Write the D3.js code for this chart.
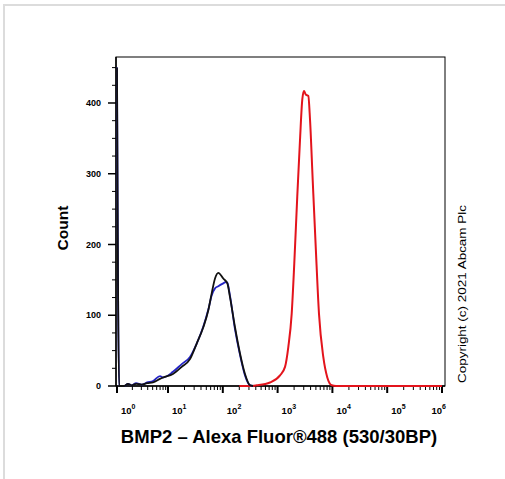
<!DOCTYPE html>
<html lang="en-US">
<head>
<meta charset="UTF-8" />
<title>BMP2 histogram</title>
<style>
    body { margin: 0; background: #fff; }
    text { font-family: "Liberation Sans", Arial, sans-serif; fill: #000; }
</style>
<script src="https://d3js.org/d3.v7.min.js"></script>
</head>
<body>
<div id="container"></div>
<script>
// fluorescence intensity (channel value) and event count
const blackX = [1, 1.1, 1.37, 1.64, 1.94, 2.36, 3.05, 3.88, 5.08, 6.97, 7.98, 12.3, 17.8, 25.2, 33.4, 44.1, 54.4, 62.7, 72.1, 82.8, 102, 121, 135, 167, 206, 254, 314, 356];
const blackY = [450, 0, 0, 3, 1, 3, 2, 4, 5, 10, 12, 17, 27, 38, 60, 83, 107, 131, 152, 160, 152, 145, 126, 83, 46, 17, 1, 0];

const blueX = [1, 1.1, 1.37, 1.64, 1.94, 2.36, 3.05, 3.88, 5.08, 6.97, 7.98, 12.3, 17.8, 25.2, 33.4, 44.1, 54.4, 62.7, 72.1, 82.8, 102, 114, 121, 135, 167, 206, 254, 314, 356];
const blueY = [450, 0, 0, 3, 1, 4, 2, 5, 7, 14, 12, 20, 31, 41, 60, 84, 108, 128, 138, 141, 145, 147, 146, 128, 80, 44, 15, 1, 0];

const redX = [200, 314, 416, 726, 1107, 1366, 1568, 1807, 2015, 2285, 2564, 2823, 3033, 3258, 3634, 3902, 4371, 4960, 5693, 6820, 8070, 9710, 11640, 1000000];
const redY = [0, 0, 1, 5, 15, 27, 55, 102, 173, 268, 348, 405, 417, 412, 410, 377, 291, 197, 102, 41, 12, 1, 0, 0];

const xDecades = [0, 1, 2, 3, 4, 5, 6];
const yMajor = [0, 100, 200, 300, 400];
const yMinor = [25, 50, 75, 125, 150, 175, 225, 250, 275, 325, 350, 375, 425, 450];

const W = 505, H = 479;
const plotL = 116, plotR = 445, plotT = 57, plotB = 386;

const svg = d3.select("#container").append("svg")
    .attr("width", W).attr("height", H);

// light border on top and left edges
svg.append("line").attr("x1", 4).attr("x2", W).attr("y1", 5).attr("y2", 5)
    .attr("stroke", "#dcdcdc").attr("stroke-width", 2);
svg.append("line").attr("x1", 4).attr("x2", 4).attr("y1", 4).attr("y2", H)
    .attr("stroke", "#dcdcdc").attr("stroke-width", 2);

// first decade is squeezed a little, like a logicle display
const x = d3.scaleLog().domain([1, 10, 1e6]).range([117, 168, 442]).clamp(true);
const y = d3.scaleLinear().domain([0, 465]).range([plotB, plotT]);

svg.append("rect")
    .attr("x", plotL).attr("y", plotT)
    .attr("width", plotR - plotL).attr("height", plotB - plotT)
    .attr("fill", "none").attr("stroke", "#000").attr("stroke-width", 1);

// y axis
const yAxis = svg.append("g").attr("transform", `translate(${plotL},0)`);
yAxis.append("line").attr("y1", plotT).attr("y2", plotB).attr("stroke", "#000").attr("stroke-width", 1.5);
yAxis.selectAll(".minor").data(yMinor).join("line")
    .attr("x1", -4).attr("x2", 0)
    .attr("y1", d => y(d)).attr("y2", d => y(d))
    .attr("stroke", "#000").attr("stroke-width", 1);
yAxis.selectAll(".major").data(yMajor).join("line")
    .attr("x1", -8).attr("x2", 0)
    .attr("y1", d => y(d)).attr("y2", d => y(d))
    .attr("stroke", "#000").attr("stroke-width", 1.5);
yAxis.selectAll("text").data(yMajor).join("text")
    .attr("x", -15).attr("y", d => y(d))
    .attr("dy", "0.35em")
    .attr("text-anchor", "end")
    .attr("font-size", "9px")
    .attr("font-weight", "bold")
    .text(d => d);

// x axis
const minors = [];
xDecades.slice(0, -1).forEach(d => {
    for (let k = 2; k <= 9; k++) minors.push(k * Math.pow(10, d));
});
const xAxis = svg.append("g");
xAxis.append("line").attr("x1", plotL).attr("x2", plotR)
    .attr("y1", plotB).attr("y2", plotB)
    .attr("stroke", "#000").attr("stroke-width", 1.5);
xAxis.selectAll(".minor").data(minors).join("line")
    .attr("x1", d => x(d)).attr("x2", d => x(d))
    .attr("y1", plotB).attr("y2", plotB + 4)
    .attr("stroke", "#000").attr("stroke-width", 1);
xAxis.selectAll(".major").data(xDecades).join("line")
    .attr("x1", d => x(Math.pow(10, d))).attr("x2", d => x(Math.pow(10, d)))
    .attr("y1", plotB).attr("y2", plotB + 7)
    .attr("stroke", "#000").attr("stroke-width", 2);
const xl = xAxis.selectAll("text").data(xDecades).join("text")
    .attr("x", d => d === 6 ? x(1e6) + 4 : x(Math.pow(10, d)) + 4)
    .attr("y", 414)
    .attr("text-anchor", d => d === 6 ? "end" : "start")
    .attr("font-size", "9.5px")
    .attr("font-weight", "bold");
xl.append("tspan").text("10");
xl.append("tspan").attr("dy", -5.5).attr("font-size", "7px").text(d => d);

// histograms
const line = d3.line()
    .x(d => x(d[0]))
    .y(d => y(d[1]))
    .curve(d3.curveMonotoneX);

const series = [
    { xs: redX, ys: redY, color: "#e3141c", w: 2 },
    { xs: blueX, ys: blueY, color: "#2424c4", w: 1.8 },
    { xs: blackX, ys: blackY, color: "#111", w: 1.8 }
];
svg.append("g").selectAll("path").data(series).join("path")
    .attr("d", s => line(s.xs.map((v, i) => [v, s.ys[i]])))
    .attr("fill", "none")
    .attr("stroke", s => s.color)
    .attr("stroke-width", s => s.w)
    .attr("stroke-linejoin", "round");

// titles
svg.append("text")
    .attr("x", 279).attr("y", 443)
    .attr("text-anchor", "middle")
    .attr("font-size", "18.5px")
    .attr("font-weight", "bold")
    .text("BMP2 \u2013 Alexa Fluor\u00ae488 (530/30BP)");

svg.append("text")
    .attr("transform", "translate(68,228) rotate(-90)")
    .attr("text-anchor", "middle")
    .attr("font-size", "15.5px")
    .attr("font-weight", "bold")
    .text("Count");

svg.append("text")
    .attr("transform", "translate(466,294) rotate(-90)")
    .attr("text-anchor", "middle")
    .attr("font-size", "11px")
    .attr("textLength", 178)
    .attr("lengthAdjust", "spacingAndGlyphs")
    .text("Copyright (c) 2021 Abcam Plc");
</script>
</body>
</html>
